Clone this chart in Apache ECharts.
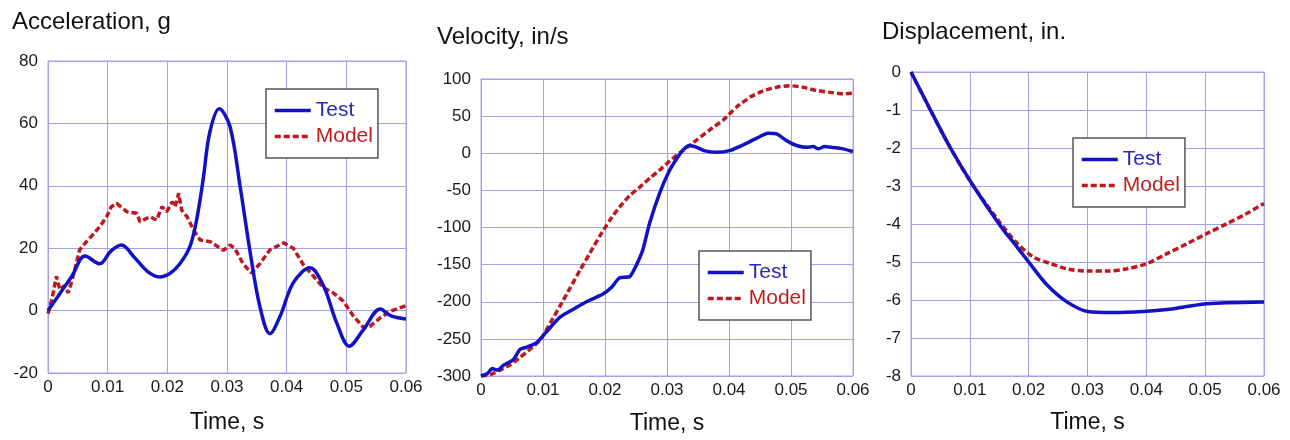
<!DOCTYPE html>
<html><head><meta charset="utf-8">
<script src="https://cdn.jsdelivr.net/npm/echarts@6/dist/echarts.min.js"></script>
<style>html,body{margin:0;padding:0;background:#fff}#c{width:1290px;height:440px}</style>
</head><body><div id="c"></div><script>
// ---- data ----
const panelTitles = ['Acceleration, g', 'Velocity, in/s', 'Displacement, in.'];
const xName = 'Time, s';
const seriesNames = ['Test', 'Model'];

const accTestT = [0, 0.002, 0.004, 0.0062, 0.0087, 0.0105, 0.0123, 0.0145, 0.0167, 0.0187, 0.0205, 0.0221, 0.0238, 0.0249, 0.026, 0.0271, 0.0287, 0.0305, 0.0322, 0.0339, 0.0355, 0.0372, 0.0389, 0.0411, 0.0439, 0.0462, 0.0484, 0.0505, 0.0529, 0.0557, 0.0574, 0.06];
const accTestV = [0, 5.5, 11, 17.5, 15, 19, 21, 17, 12.5, 10.8, 12, 15, 20.6, 29, 42, 57, 64.7, 59, 39.8, 18.5, 1.4, -7.4, -1.8, 8.9, 13.7, 7.8, -4, -11.4, -6, 0.5, -1.6, -2.7];
const accModelT = [0, 0.0007, 0.0014, 0.002, 0.0027, 0.0034, 0.0039, 0.0046, 0.0053, 0.0064, 0.0076, 0.0087, 0.0098, 0.0106, 0.0115, 0.0132, 0.0149, 0.0154, 0.0171, 0.0182, 0.0191, 0.0199, 0.0208, 0.0213, 0.0219, 0.0224, 0.0233, 0.0244, 0.0255, 0.0272, 0.0294, 0.0305, 0.0313, 0.0327, 0.0341, 0.0355, 0.0372, 0.0395, 0.0411, 0.0428, 0.0445, 0.0462, 0.0478, 0.0495, 0.0512, 0.0529, 0.054, 0.0557, 0.0574, 0.06];
const accModelV = [-1, 4, 11, 6.7, 8, 5.7, 8.9, 14, 19.5, 22, 24.5, 27, 30, 33.3, 34.4, 31.7, 31.2, 28.5, 30.1, 29, 33.3, 31.7, 34.9, 33.3, 37.6, 32.2, 30.1, 25.8, 22.6, 22.1, 19.3, 21, 20, 15, 12, 15, 19.5, 21.7, 20, 14.7, 11, 7.3, 5.7, 3, -1.8, -5.5, -5, -2.3, -0.2, 1.6];

const velTestT = [0, 0.001, 0.0018, 0.0027, 0.0037, 0.0052, 0.0063, 0.0074, 0.009, 0.0106, 0.0127, 0.0149, 0.017, 0.0196, 0.0211, 0.0223, 0.024, 0.0251, 0.0261, 0.0272, 0.0288, 0.0303, 0.0316, 0.0326, 0.0336, 0.0348, 0.0361, 0.038, 0.0401, 0.0423, 0.0444, 0.0463, 0.0477, 0.0493, 0.0509, 0.0525, 0.0536, 0.0544, 0.0554, 0.0568, 0.0584, 0.06];
const velTestV = [-300, -297, -290, -292, -285, -278, -264, -261, -255, -240, -221, -210, -200, -190, -180, -168, -166, -150, -130, -94, -54, -25, -6.8, 4.5, 10.4, 8, 3.2, 1.4, 3.6, 11.3, 20, 27, 26, 17, 10.4, 8, 9, 5.9, 9, 7.6, 5.9, 2.3];
const velModelT = [0, 0.0015, 0.0031, 0.0047, 0.0063, 0.0079, 0.0096, 0.0112, 0.0128, 0.0144, 0.016, 0.0176, 0.0192, 0.0208, 0.0224, 0.024, 0.0257, 0.0273, 0.0289, 0.0305, 0.0326, 0.0348, 0.0369, 0.0391, 0.0412, 0.0434, 0.0455, 0.0477, 0.0498, 0.052, 0.0541, 0.0563, 0.0584, 0.06];
const velModelV = [-300, -298, -292, -285, -275, -264, -251, -228, -205, -181, -157, -134, -111, -90, -72, -57, -45, -33, -22, -10, 4, 18, 31.5, 45, 62, 75.6, 84, 89, 91, 88.7, 84.6, 82, 80, 81];

const dispTestT = [0, 0.0033, 0.0067, 0.0106, 0.0152, 0.018, 0.02, 0.0231, 0.0265, 0.03, 0.0344, 0.0395, 0.0435, 0.0469, 0.0503, 0.0537, 0.06];
const dispTestV = [0, -1, -2, -3, -4.05, -4.6, -5.0, -5.6, -6.05, -6.3, -6.33, -6.3, -6.25, -6.17, -6.1, -6.07, -6.05];
const dispModelT = [0, 0.0033, 0.0067, 0.0106, 0.0152, 0.018, 0.0208, 0.0237, 0.0265, 0.0299, 0.0333, 0.0367, 0.0401, 0.0435, 0.0469, 0.0503, 0.0537, 0.057, 0.06];
const dispModelV = [0, -1, -2, -3, -3.98, -4.5, -4.87, -5.04, -5.18, -5.24, -5.24, -5.18, -5.04, -4.78, -4.52, -4.25, -3.99, -3.73, -3.46];

const yMin = [-20, -300, -8];
const yMax = [80, 100, 0];
const yStep = [20, 50, 1];

// ---- styling ----
const FONT = "'Liberation Sans', Arial, sans-serif";
const BLUE = '#1212c4';
const RED = '#c0161e';
const BLUE_TXT = '#2a2ab8';
const RED_TXT = '#c01e1e';
const GRIDC = '#a2a2ea';
const TXT = '#1a1a1a';

const grids = [
  {left: 48, top: 61, width: 358, height: 312},
  {left: 481, top: 79, width: 372, height: 297},
  {left: 911, top: 72, width: 353, height: 304}
];
const legendPos = [
  {left: 266, top: 89},
  {left: 699, top: 251},
  {left: 1073, top: 138}
];
const titlePos = [[12, 22], [437, 37], [882, 32]];
const nameGaps = [38, 36, 35];
const yPadB = [8, 4, 4];

function pairs(t, v) { return t.map((x, i) => [x, v[i]]); }
const dataSets = [
  [pairs(accTestT, accTestV), pairs(accModelT, accModelV)],
  [pairs(velTestT, velTestV), pairs(velModelT, velModelV)],
  [pairs(dispTestT, dispTestV), pairs(dispModelT, dispModelV)]
];
const smoothTest = [0.35, 0.2, 0.3];
const smoothModel = [false, 0.2, 0.3];

const chart = echarts.init(document.getElementById('c'), null, {renderer: 'canvas'});
const option = {
  animation: false,
  backgroundColor: '#fff',
  grid: grids.map(g => Object.assign({show: true, borderColor: GRIDC, borderWidth: 1, containLabel: false, outerBoundsMode: 'none'}, g)),
  xAxis: [0, 1, 2].map(i => ({
    type: 'value', gridIndex: i, min: 0, max: 0.06, interval: 0.01,
    axisLine: {show: false}, axisTick: {show: false},
    splitLine: {show: true, lineStyle: {color: GRIDC, width: 1}},
    axisLabel: {fontSize: 17, color: TXT, fontFamily: FONT, margin: 6,
      formatter: v => v === 0 ? '0' : v.toFixed(2)},
    name: xName, nameLocation: 'middle', nameGap: nameGaps[i],
    nameTextStyle: {fontSize: 23, color: '#111', fontFamily: FONT}
  })),
  yAxis: [0, 1, 2].map(i => ({
    type: 'value', gridIndex: i, min: yMin[i], max: yMax[i], interval: yStep[i],
    axisLine: {show: false}, axisTick: {show: false},
    splitLine: {show: true, lineStyle: {color: GRIDC, width: 1}},
    axisLabel: {fontSize: 17, color: TXT, fontFamily: FONT, margin: 10,
      padding: [0, 0, yPadB[i], 0]}
  })),
  legend: [0, 1, 2].map(i => ({
    left: legendPos[i].left, top: legendPos[i].top, orient: 'vertical',
    backgroundColor: '#fff', borderColor: '#555', borderWidth: 1.5,
    padding: [11, 5, 11, 7], itemWidth: 36, itemHeight: 14, itemGap: 5,
    selectedMode: false,
    itemStyle: {opacity: 0, borderWidth: 0},
    lineStyle: {width: 3.5},
    textStyle: {fontSize: 21, fontFamily: FONT},
    data: [
      {name: seriesNames[0], textStyle: {color: BLUE_TXT}},
      {name: seriesNames[1], textStyle: {color: RED_TXT}}
    ]
  })),
  graphic: panelTitles.map((t, i) => ({
    type: 'text', x: titlePos[i][0], y: titlePos[i][1],
    style: {text: t, fontSize: 24, fontFamily: FONT, fill: '#111', verticalAlign: 'middle', align: 'left'}
  })),
  series: []
};
[0, 1, 2].forEach(i => {
  option.series.push({
    name: seriesNames[0], type: 'line', xAxisIndex: i, yAxisIndex: i,
    data: dataSets[i][0], symbol: 'none', showSymbol: false, smooth: smoothTest[i],
    lineStyle: {color: BLUE, width: 3.5}, itemStyle: {color: BLUE}, z: 3
  });
  option.series.push({
    name: seriesNames[1], type: 'line', xAxisIndex: i, yAxisIndex: i,
    data: dataSets[i][1], symbol: 'none', showSymbol: false, smooth: smoothModel[i],
    lineStyle: {color: RED, width: 3.5, type: [6, 3]}, itemStyle: {color: RED}, z: 2
  });
});
chart.setOption(option);
</script></body></html>
